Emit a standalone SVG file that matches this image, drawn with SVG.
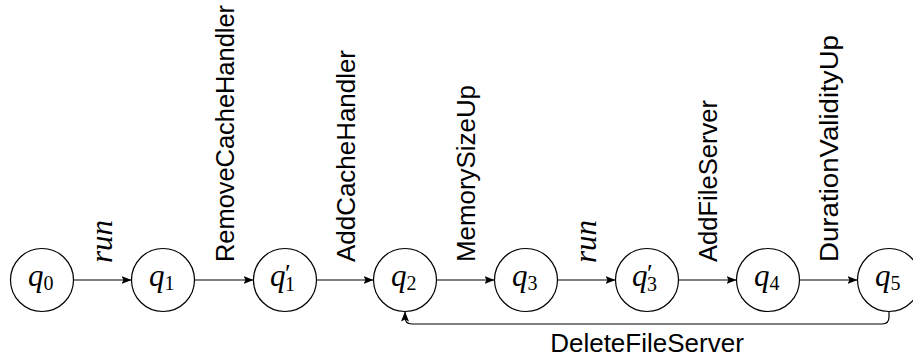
<svg xmlns="http://www.w3.org/2000/svg" width="913" height="362" viewBox="0 0 913 362">
<style>
.st{fill:#fff;stroke:#000;stroke-width:1.2}
.q{font-family:"Liberation Serif","DejaVu Serif",serif;font-style:italic;font-size:31px;fill:#000}
.sub{font-style:normal;font-size:20px}
.pr{font-style:normal;font-size:26px}
.lbl{font-family:"Liberation Sans","DejaVu Sans",sans-serif;font-size:26px;fill:#000}
.lit{font-family:"Liberation Serif","DejaVu Serif",serif;font-style:italic;font-size:31px;fill:#000}
.e{fill:none;stroke:#000;stroke-width:1.2}
</style>
<defs>
<marker id="ah" markerUnits="userSpaceOnUse" viewBox="0 0 10 8" markerWidth="10" markerHeight="8" refX="10" refY="4" orient="auto">
<path d="M0,0 L10,4 L0,8 L2,4 Z" fill="#000"/>
</marker>
</defs>
<g id="edges">
<line class="e" x1="73.5" y1="280" x2="131.5" y2="280" marker-end="url(#ah)"/>
<line class="e" x1="194.5" y1="280" x2="253.5" y2="280" marker-end="url(#ah)"/>
<line class="e" x1="316.5" y1="280" x2="373.5" y2="280" marker-end="url(#ah)"/>
<line class="e" x1="436.5" y1="280" x2="494.5" y2="280" marker-end="url(#ah)"/>
<line class="e" x1="557.5" y1="280" x2="615.5" y2="280" marker-end="url(#ah)"/>
<line class="e" x1="678.5" y1="280" x2="736.5" y2="280" marker-end="url(#ah)"/>
<line class="e" x1="799.5" y1="280" x2="857.5" y2="280" marker-end="url(#ah)"/>
<path class="e" d="M889,311.5 V317 Q889,324 882,324 H412 Q405,324 405,317 V311.5" marker-end="url(#ah)"/>
<text class="lit" transform="translate(112,263) rotate(-90)">run</text>
<text class="lbl" transform="translate(234,262) rotate(-90)" textLength="257" lengthAdjust="spacingAndGlyphs">RemoveCacheHandler</text>
<text class="lbl" transform="translate(355,262) rotate(-90)" textLength="212" lengthAdjust="spacingAndGlyphs">AddCacheHandler</text>
<text class="lbl" transform="translate(475,262) rotate(-90)" textLength="177" lengthAdjust="spacingAndGlyphs">MemorySizeUp</text>
<text class="lit" transform="translate(596,263) rotate(-90)">run</text>
<text class="lbl" transform="translate(717,262) rotate(-90)" textLength="162" lengthAdjust="spacingAndGlyphs">AddFileServer</text>
<text class="lbl" transform="translate(838,262) rotate(-90)" textLength="227" lengthAdjust="spacingAndGlyphs">DurationValidityUp</text>
<text class="lbl" x="647" y="352" text-anchor="middle">DeleteFileServer</text>
</g>
<g id="q0"><circle class="st" cx="42" cy="280" r="31.5"/><text class="q" x="28" y="286">q<tspan class="sub" dy="4">0</tspan></text></g>
<g id="q1"><circle class="st" cx="163" cy="280" r="31.5"/><text class="q" x="149" y="286">q<tspan class="sub" dy="4">1</tspan></text></g>
<g id="q1p"><circle class="st" cx="285" cy="280" r="31.5"/><text class="q" x="270" y="286">q<tspan class="pr" x="285" y="282">′</tspan><tspan class="sub" x="285" y="291">1</tspan></text></g>
<g id="q2"><circle class="st" cx="405" cy="280" r="31.5"/><text class="q" x="391" y="286">q<tspan class="sub" dy="4">2</tspan></text></g>
<g id="q3"><circle class="st" cx="526" cy="280" r="31.5"/><text class="q" x="512" y="286">q<tspan class="sub" dy="4">3</tspan></text></g>
<g id="q3p"><circle class="st" cx="647" cy="280" r="31.5"/><text class="q" x="632" y="286">q<tspan class="pr" x="647" y="282">′</tspan><tspan class="sub" x="647" y="291">3</tspan></text></g>
<g id="q4"><circle class="st" cx="768" cy="280" r="31.5"/><text class="q" x="754" y="286">q<tspan class="sub" dy="4">4</tspan></text></g>
<g id="q5"><circle class="st" cx="889" cy="280" r="31.5"/><text class="q" x="875" y="286">q<tspan class="sub" dy="4">5</tspan></text></g>
</svg>
